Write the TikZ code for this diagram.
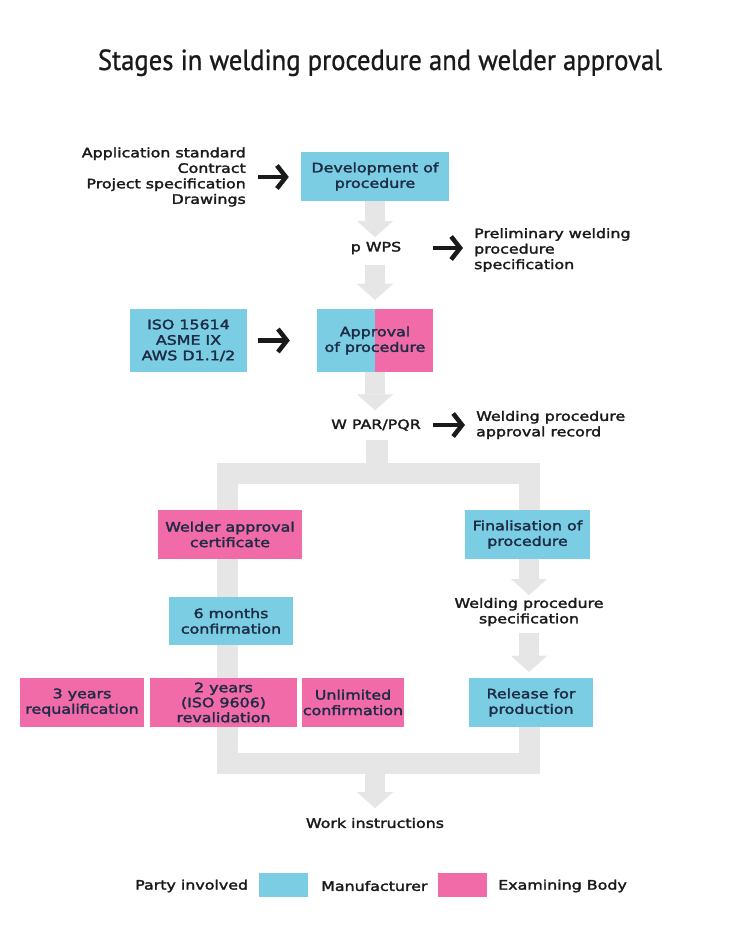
\documentclass[tikz,border=0pt]{standalone}
\usepackage{fontspec}
\setmainfont{DejaVu Sans}[FakeStretch=1.22,FakeBold=2.2]
\newfontfamily\titlefont{PT Sans}[FakeStretch=0.92,FakeBold=0.8]
\usetikzlibrary{arrows.meta}
\definecolor{cyanbox}{HTML}{7ACDE3}
\definecolor{pinkbox}{HTML}{F06BA8}
\definecolor{gbar}{HTML}{E6E6E6}
\definecolor{boxtext}{HTML}{1E2B45}
\definecolor{txt}{HTML}{1A1A1A}
\begin{document}
\begin{tikzpicture}[x=1pt,y=-1pt,
 every node/.style={inner sep=0pt, font=\fontsize{13}{15.5}\selectfont, text=txt},
 box/.style={align=center, text=boxtext, minimum height=49pt},
 cbox/.style={box, fill=cyanbox},
 pbox/.style={box, fill=pinkbox},
 lbl/.style={align=center},
 blk/.style={line width=4.5pt, draw=txt, -{Straight Barb[length=9pt,width=23pt]}},
 garr/.style={line width=20pt, draw=gbar, -{Triangle[length=16pt,width=36pt,line width=0.1pt]}},
 gline/.style={line width=21pt, draw=gbar, line join=miter},
 swatch/.style={minimum width=49pt, minimum height=24pt},
]
\useasboundingbox[fill=white] (0,0) rectangle (750,926);

% title
\node[font=\titlefont\fontsize{29}{34}\selectfont, anchor=base] (title) at (380,70) {Stages in welding procedure and welder approval};

% coordinates for the grey flow
\coordinate (t1) at (375,237);
\coordinate (s2) at (375,265);
\coordinate (s4) at (377,440);
\coordinate (j4) at (377,473);
\coordinate (rt) at (529,473);
\coordinate (lt) at (227,473);
\coordinate (lb) at (227,763);
\coordinate (rb) at (529,763);
\coordinate (s5) at (529,559);
\coordinate (t5) at (529,595);
\coordinate (s6) at (529,633);
\coordinate (s7) at (375,763);
\coordinate (t7) at (375,808);

% nodes
\node[align=right, anchor=east] (inp) at (246,177) {Application standard\\Contract\\Project specification\\Drawings};
\node[cbox, minimum width=148pt] (dev) at (375,176.5) {Development of\\procedure};
\node[lbl] (pwps) at (376,248) {p WPS};
\node[align=left, anchor=west] (prelim) at (474,250) {Preliminary welding\\procedure\\specification};
\node[lbl] (wpar) at (376,425) {W PAR/PQR};
\node[align=left, anchor=west] (wtext) at (476,425) {Welding procedure\\approval record};
\node[lbl] (wps) at (529,612) {Welding procedure\\specification};
\node[lbl] (work) at (375,823) {Work instructions};

% grey frame (behind boxes)
\draw[gline] (529,515) -- (rt) -- (lt) -- (lb) -- (rb) -- (529,720);
\draw[gline, line width=22pt] (s4) -- (j4);

% boxes
\node[cbox, minimum width=117pt, minimum height=63pt] (iso) at (188.5,340.5) {ISO 15614\\ASME IX\\AWS D1.1/2};
\node[box, fill=pinkbox, minimum width=116pt, minimum height=63pt,
  path picture={\fill[cyanbox] (path picture bounding box.north west) rectangle (path picture bounding box.south);}] (appr) at (375,340.5) {Approval\\of procedure};
\node[pbox, minimum width=144pt] (welder) at (230,534.5) {Welder approval\\certificate};
\node[cbox, minimum width=124pt, minimum height=48pt] (six) at (231,621) {6 months\\confirmation};
\node[pbox, minimum width=124pt] (three) at (82,702.5) {3 years\\requalification};
\node[pbox, minimum width=147pt, font=\fontsize{13}{15}\selectfont] (two) at (223.5,702.5) {2 years\\(ISO 9606)\\revalidation};
\node[pbox, minimum width=102pt] (unl) at (353,702.5) {Unlimited\\confirmation};
\node[cbox, minimum width=125pt] (fin) at (527.5,534.5) {Finalisation of\\procedure};
\node[cbox, minimum width=124pt] (rel) at (531,702.5) {Release for\\production};

% grey arrows
\draw[garr] (dev.south) -- (t1);
\draw[garr, shorten >=9pt] (s2) -- (appr.north);
\draw[garr] (appr.south) -- ++(0,38);
\draw[garr] (s5) -- (t5);
\draw[garr, shorten >=6pt] (s6) -- (s6 |- rel.north);
\draw[garr] (s7) -- (t7);

% black arrows
\draw[blk, shorten <=12pt, shorten >=12pt] (inp.east) -- (inp.east -| dev.west);
\draw[blk, shorten <=32pt, shorten >=11pt] (pwps.east) -- (pwps.east -| prelim.west);
\draw[blk, shorten <=11pt, shorten >=27pt] (iso.east) -- (iso.east -| appr.west);
\draw[blk, shorten <=12pt, shorten >=11pt] (wpar.east) -- (wpar.east -| wtext.west);

% legend
\node[anchor=west] (party) at (135,886) {Party involved};
\node[swatch, fill=cyanbox] (swm) at (283,885) {};
\node[anchor=west] (manu) at (321,886) {Manufacturer};
\node[swatch, fill=pinkbox] (swe) at (462,885) {};
\node[anchor=west] (exam) at (498,886) {Examining Body};
\end{tikzpicture}
\end{document}
